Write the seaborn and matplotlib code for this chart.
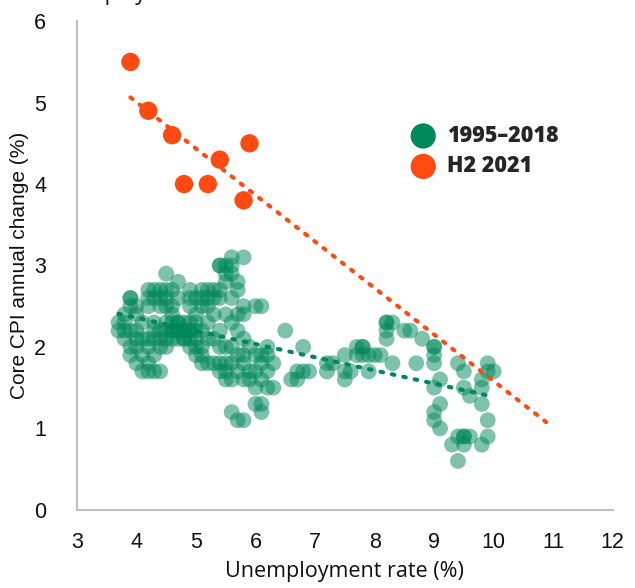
import numpy as np
import pandas as pd
import matplotlib
matplotlib.use("Agg")
import matplotlib.pyplot as plt
import seaborn as sns

# Core CPI vs unemployment, monthly 1995-2018
green_unemp = [
    3.7, 3.7, 3.8, 3.8, 3.8, 3.8, 3.9, 3.9, 3.9, 3.9, 3.9, 3.9, 4.0, 4.0, 4.0, 4.0, 4.0, 4.0, 4.1, 4.1, 4.1, 4.1,
    4.2, 4.2, 4.2, 4.2, 4.2, 4.2, 4.2, 4.3, 4.3, 4.3, 4.3, 4.3, 4.3, 4.3, 4.4, 4.4, 4.4, 4.4, 4.4, 4.4, 4.4,
    4.5, 4.5, 4.5, 4.5, 4.5, 4.5, 4.5, 4.5,
    4.6, 4.6, 4.6, 4.6, 4.6, 4.6, 4.6, 4.7, 4.7, 4.7, 4.7, 4.7, 4.7, 4.7, 4.8, 4.8, 4.8, 4.8, 4.8,
    4.9, 4.9, 4.9, 4.9, 4.9, 4.9, 4.9, 4.9, 5.0, 5.0, 5.0, 5.0, 5.0, 5.0, 5.0,
    5.1, 5.1, 5.1, 5.1, 5.1, 5.1, 5.1, 5.2, 5.2, 5.2, 5.2, 5.2, 5.2, 5.3, 5.3, 5.3, 5.3, 5.3,
    5.4, 5.4, 5.4, 5.4, 5.4, 5.4, 5.4, 5.4,
    5.5, 5.5, 5.5, 5.5, 5.5, 5.5, 5.5, 5.5, 5.6, 5.6, 5.6, 5.6, 5.6, 5.6, 5.6, 5.6, 5.6,
    5.7, 5.7, 5.7, 5.7, 5.7, 5.7, 5.7, 5.8, 5.8, 5.8, 5.8, 5.8, 5.8, 5.8, 5.8, 5.9, 5.9, 5.9,
    6.0, 6.0, 6.0, 6.0, 6.0, 6.1, 6.1, 6.1, 6.1, 6.1, 6.1, 6.2, 6.2, 6.2, 6.2, 6.3, 6.3,
    6.5, 6.6, 6.7, 6.7, 6.8, 6.8, 6.9,
    7.2, 7.2, 7.3, 7.5, 7.5, 7.5, 7.6, 7.7, 7.7, 7.8, 7.8, 7.8, 7.9, 7.9, 8.0, 8.1,
    8.2, 8.2, 8.2, 8.2, 8.3, 8.3, 8.5, 8.6, 8.7, 8.8,
    9.0, 9.0, 9.0, 9.0, 9.1, 9.0, 9.1, 9.0, 9.0, 9.1,
    9.3, 9.4, 9.5, 9.5, 9.6, 9.5, 9.4, 9.8, 9.9, 9.9, 9.8, 9.4, 9.5, 9.5, 9.6, 9.8, 9.8, 9.9, 9.9, 10.0,
]
green_cpi = [
    2.2, 2.3, 2.1, 2.2, 2.3, 2.4, 2.6, 2.6, 2.5, 2.2, 2.0, 1.9, 2.5, 2.4, 2.2, 2.1, 2.0, 1.8, 2.1, 1.9, 1.7, 2.3,
    2.7, 2.6, 2.5, 2.1, 2.0, 1.8, 1.7, 2.7, 2.6, 2.3, 2.2, 2.1, 1.7, 1.9, 2.7, 2.6, 2.5, 2.2, 2.1, 2.0, 1.7,
    2.9, 2.7, 2.6, 2.5, 2.3, 2.2, 2.1, 2.0,
    2.7, 2.5, 2.3, 2.2, 2.2, 2.1, 2.4, 2.8, 2.6, 2.3, 2.2, 2.2, 2.1, 2.3, 2.3, 2.2, 2.2, 2.1, 2.1,
    2.7, 2.6, 2.5, 2.3, 2.2, 2.1, 2.0, 2.2, 2.6, 2.4, 2.2, 2.1, 2.0, 1.9, 2.3,
    2.7, 2.6, 2.5, 2.2, 2.0, 1.9, 1.8, 2.7, 2.6, 2.5, 2.3, 2.1, 1.8, 2.7, 2.6, 2.4, 2.1, 1.8,
    2.7, 2.6, 2.2, 2.0, 1.8, 1.7, 3.0, 3.0,
    3.0, 2.9, 2.8, 2.4, 2.0, 1.8, 1.7, 1.6, 3.1, 3.0, 2.9, 2.6, 2.3, 2.0, 1.8, 1.6, 1.2,
    2.8, 2.7, 2.4, 2.2, 1.9, 1.7, 1.1, 3.1, 2.5, 2.4, 2.1, 1.9, 1.8, 1.6, 1.1, 2.0, 1.7, 1.6,
    2.5, 1.9, 1.7, 1.5, 1.3, 2.5, 1.9, 1.8, 1.6, 1.3, 1.2, 2.0, 1.9, 1.7, 1.5, 1.8, 1.5,
    2.2, 1.6, 1.7, 1.6, 1.7, 2.0, 1.7,
    1.8, 1.7, 1.8, 1.9, 1.7, 1.6, 1.7, 2.0, 1.9, 2.0, 2.0, 1.9, 1.7, 1.9, 1.9, 1.9,
    2.3, 2.3, 2.2, 2.1, 2.3, 1.8, 2.2, 2.2, 1.8, 2.1,
    2.0, 2.0, 1.9, 1.8, 1.6, 1.5, 1.3, 1.2, 1.1, 1.0,
    0.8, 0.9, 0.9, 0.9, 0.9, 0.8, 0.6, 0.8, 0.9, 1.1, 1.3, 1.8, 1.7, 1.5, 1.4, 1.5, 1.6, 1.7, 1.8, 1.7,
]

# H2 2021
orange_unemp = [3.9, 4.2, 4.6, 5.4, 5.9, 4.8, 5.2, 5.8]
orange_cpi = [5.5, 4.9, 4.6, 4.3, 4.5, 4.0, 4.0, 3.8]

GREEN = "#00875A"
ORANGE = "#FF4A12"

sns.set_theme(style="white")
plt.rcParams['font.family'] = ['Liberation Sans', 'DejaVu Sans']

df_green = pd.DataFrame({"u": green_unemp, "c": green_cpi})
df_orange = pd.DataFrame({"u": orange_unemp, "c": orange_cpi})

fig = plt.figure(figsize=(6.35, 5.88), dpi=100)
ax = fig.add_axes([0.121, 0.133, 0.844, 0.831])

sns.scatterplot(data=df_green, x="u", y="c", ax=ax, color=GREEN, alpha=0.5,
                s=130, edgecolor="none", label="1995–2018", zorder=2)
sns.scatterplot(data=df_orange, x="u", y="c", ax=ax, color=ORANGE,
                s=175, edgecolor="none", label="H2 2021", zorder=3)

# linear trend lines (orange one projected forward)
g_fit = np.polyfit(df_green["u"], df_green["c"], 1)
gx = np.array([df_green["u"].min(), df_green["u"].max()])
ax.plot(gx, np.polyval(g_fit, gx), linestyle=(0, (0.6, 2.2)), color=GREEN,
        linewidth=3, dash_capstyle="round", zorder=4)
o_fit = np.polyfit(df_orange["u"], df_orange["c"], 1)
ox = np.array([df_orange["u"].min(), df_orange["u"].max() + 5])
ax.plot(ox, np.polyval(o_fit, ox), linestyle=(0, (0.6, 2.2)), color=ORANGE,
        linewidth=3, dash_capstyle="round", zorder=4)

ax.set_xlim(3, 12)
ax.set_ylim(0, 6)
ax.set_xticks(range(3, 13))
ax.set_yticks(range(0, 7))
ax.tick_params(axis="both", length=0, labelsize=15.5, colors="#111111")
ax.tick_params(axis="x", pad=16)
ax.tick_params(axis="y", pad=22)
for side in ["top", "right"]:
    ax.spines[side].set_visible(False)
for side in ["left", "bottom"]:
    ax.spines[side].set_color("#c0c0c0")
    ax.spines[side].set_linewidth(1.5)

ax.set_xlabel("Unemployment rate (%)", fontsize=15.5, family=["Open Sans", "DejaVu Sans"],
              color="#111111", labelpad=6)
ax.set_ylabel("Core CPI annual change (%)", fontsize=15, color="#111111", labelpad=4)

leg = ax.legend(loc="upper left", bbox_to_anchor=(0.57, 0.83), frameon=False,
                handletextpad=0.1, labelspacing=0.3,
                prop={"family": ["Open Sans", "DejaVu Sans"], "weight": "heavy", "size": 15.5})
for h in leg.legend_handles:
    h.set_alpha(1)
    h.set_sizes([330])

# clipped title above the plot
fig.text(0.072, 1.0, "Unemployment", fontsize=15, va="baseline", color="#111111",
         family=["Open Sans", "DejaVu Sans"])

fig.savefig("out.png", dpi=100)
